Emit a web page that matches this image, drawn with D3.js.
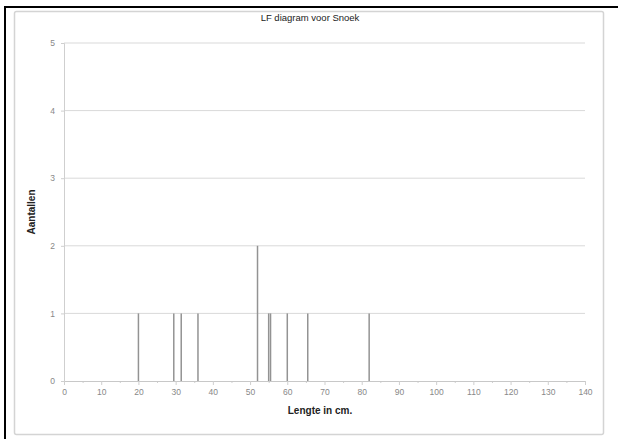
<!DOCTYPE html>
<html>
<head>
<meta charset="utf-8">
<script src="https://cdn.jsdelivr.net/npm/d3@7"></script>
<style>
  body { margin: 0; background: #fff; }
  svg { display: block; font-family: "Liberation Sans", Arial, sans-serif; }
</style>
</head>
<body>
<svg id="chart"></svg>
<script>
// Chart data: fish lengths (cm) and counts
let lengths = [20, 29.5, 31.5, 36, 52, 55, 55.5, 60, 65.5, 82];
let counts  = [1, 1, 1, 1, 2, 1, 1, 1, 1, 1];
let xTicks = [0, 10, 20, 30, 40, 50, 60, 70, 80, 90, 100, 110, 120, 130, 140];
let yTicks = [0, 1, 2, 3, 4, 5];

let width = 618, height = 439;
let svg = d3.select('#chart').attr('width', width).attr('height', height);

// page frame (black left/top border of the cell)
svg.append('line').attr('x1', 5).attr('x2', 5).attr('y1', 6).attr('y2', height)
    .attr('stroke', '#000').attr('stroke-width', 2);
svg.append('line').attr('x1', 4).attr('x2', width).attr('y1', 7).attr('y2', 7)
    .attr('stroke', '#000').attr('stroke-width', 2);

// chart area border
svg.append('rect').attr('x', 14.5).attr('y', 11.5).attr('width', 589).attr('height', 423)
    .attr('rx', 2).attr('fill', '#fff').attr('stroke', '#d4d4d4').attr('stroke-width', 1.5);

let x = d3.scaleLinear().domain([0, 140]).range([64, 585]);
let y = d3.scaleLinear().domain([0, 5]).range([381, 43]);

// horizontal gridlines
svg.append('g').selectAll('line')
    .data(yTicks.filter(d => d > 0))
    .enter().append('line')
    .attr('x1', x(0)).attr('x2', x(140))
    .attr('y1', d => y(d)).attr('y2', d => y(d))
    .attr('stroke', '#d9d9d9').attr('stroke-width', 1);

// y axis
let yAxis = svg.append('g')
    .attr('transform', `translate(${x(0)},0)`)
    .call(d3.axisLeft(y).tickValues(yTicks).tickSize(3).tickFormat(d3.format('d')));
yAxis.select('.domain').attr('stroke', '#cfcfcf');
yAxis.selectAll('.tick line').attr('stroke', '#cfcfcf');
yAxis.selectAll('text').attr('fill', '#888').style('font-size', '8.5px').attr('x', -9);

// x axis with minor ticks
let xMinor = svg.append('g')
    .attr('transform', `translate(0,${y(0)})`)
    .call(d3.axisBottom(x).tickValues(d3.range(5, 140, 10)).tickSize(2).tickFormat(''));
xMinor.select('.domain').remove();
xMinor.selectAll('.tick line').attr('stroke', '#cfcfcf');

let xAxis = svg.append('g')
    .attr('transform', `translate(0,${y(0)})`)
    .call(d3.axisBottom(x).tickValues(xTicks).tickSize(4).tickFormat(d3.format('d')));
xAxis.select('.domain').attr('stroke', '#c8c8c8');
xAxis.selectAll('.tick line').attr('stroke', '#cfcfcf');
xAxis.selectAll('text').attr('fill', '#888').style('font-size', '8.5px').attr('y', 8);

// vertical bars (drop lines)
svg.append('g').selectAll('line')
    .data(lengths.map((d, i) => ({ len: d, n: counts[i] })))
    .enter().append('line')
    .attr('x1', d => x(d.len)).attr('x2', d => x(d.len))
    .attr('y1', y(0)).attr('y2', d => y(d.n))
    .attr('stroke', '#939393').attr('stroke-width', 1.5);

// title
svg.append('text').attr('x', 310).attr('y', 21).attr('text-anchor', 'middle')
    .style('font-size', '9.5px').attr('fill', '#222')
    .text('LF diagram voor Snoek');

// axis titles
svg.append('text').attr('x', 320).attr('y', 414).attr('text-anchor', 'middle')
    .style('font-size', '10px').style('font-weight', 'bold').attr('fill', '#222')
    .text('Lengte in cm.');

svg.append('text')
    .attr('transform', 'translate(35,212) rotate(-90)')
    .attr('text-anchor', 'middle')
    .style('font-size', '10px').style('font-weight', 'bold').attr('fill', '#222')
    .text('Aantallen');
</script>
</body>
</html>
